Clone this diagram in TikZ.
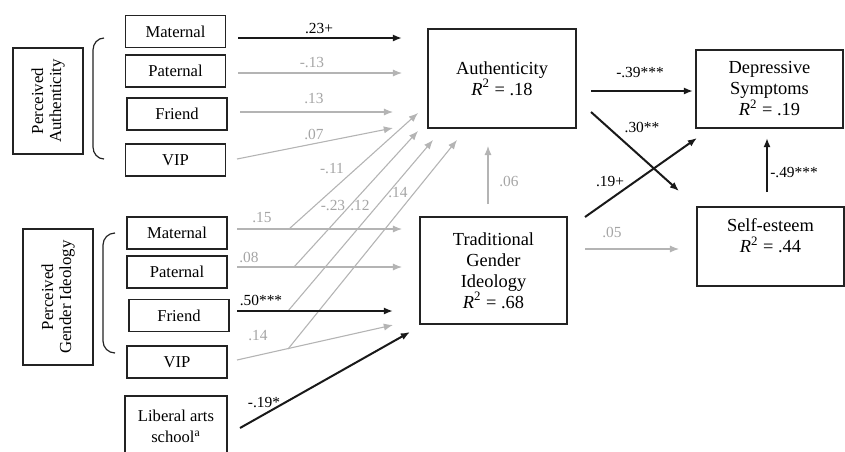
\documentclass[tikz,border=0pt]{standalone}
\usepackage{fontspec}
\setmainfont{Liberation Serif}
\usetikzlibrary{arrows.meta,positioning}
\definecolor{nsgray}{RGB}{180,180,180}
\definecolor{nstext}{RGB}{165,165,165}
\definecolor{boxline}{RGB}{35,35,35}
\newcommand{\rsq}[1]{\textit{R}\textsuperscript{2} = #1}
\tikzset{
  smallbox/.style={draw=boxline, line width=0.6pt, minimum width=50pt, minimum height=16pt,
    inner sep=1pt, align=center, font=\fontsize{8.3}{10.5}\selectfont},
  bigbox/.style={draw=boxline, line width=0.6pt, align=center, inner sep=1pt,
    font=\fontsize{9.2}{10.5}\selectfont},
  groupbox/.style={draw=boxline, line width=0.6pt, rotate=90, align=center, inner sep=1pt,
    minimum height=35pt, font=\fontsize{8.4}{9}\selectfont},
  brace line/.style={draw=boxline, line width=0.6pt},
  sig/.style={draw=black!90, line width=1pt, -{Latex[length=4.6pt,width=3.6pt]}},
  ns/.style={draw=nsgray, line width=0.55pt, -{Latex[length=4.6pt,width=3.6pt]}},
  coef/.style={inner sep=0.5pt, font=\fontsize{7.7}{9}\selectfont},
  nscoef/.style={coef, text=nstext},
}
\begin{document}
\begin{tikzpicture}[x=0.5pt, y=-0.5pt]
\useasboundingbox (0,0) rectangle (845,451);
% group boxes and braces
\node[groupbox, minimum width=53pt] (pauth) at (48,101) {Perceived\\Authenticity};
\node[groupbox, minimum width=68pt] (pgend) at (58,297) {Perceived\\Gender Ideology};
\draw[brace line] (104,38) to[out=180,in=90] (93,50) -- (93,147) to[out=-90,in=180] (104,159);
\draw[brace line] (115,233) to[out=180,in=90] (103,245) -- (103,341) to[out=-90,in=180] (115,353);

% predictors
\foreach \name/\x/\y/\txt in {amat/175.5/31.5/Maternal, apat/175.5/71/Paternal,
    afri/177/114/Friend, avip/175.5/160/VIP, gmat/177/233/Maternal,
    gpat/177/272/Paternal, gfri/179/315.5/Friend, gvip/177/362/VIP}
  \node[smallbox] (\name) at (\x,\y) {\txt};
\node[smallbox, minimum width=51pt, minimum height=30pt] (lib) at (176,426) {Liberal arts\\school\textsuperscript{a}};

% outcomes
\node[bigbox, minimum width=74pt, minimum height=49.5pt] (auth) at (502,78.5) {Authenticity\\\rsq{.18}};
\node[bigbox, minimum width=73.5pt, minimum height=53.5pt] (tgi) at (493.5,270.5) {Traditional\\Gender\\Ideology\\\rsq{.68}};
\node[bigbox, minimum width=73.5pt, minimum height=39pt] (dep) at (769.5,89) {Depressive\\Symptoms\\\rsq{.19}};
\node[bigbox, minimum width=73.5pt, minimum height=39.5pt] (se) at (770.5,246.5) {Self-esteem\\\rsq{.44}\\\mbox{}};

% arrow ends
\foreach \name/\x/\y in {amat-o/238/38, amat-i/402/38, apat-o/238/73, apat-i/402/73,
    afri-o/240/112, afri-i/393/112, avip-o/237/159, avip-i/393/128,
    gmat-o/237/229, gmat-i/402/229, gpat-o/237/267, gpat-i/402/267,
    gfri-o/237/311, gfri-i/393/311, gvip-o/237/360, gvip-i/393/325,
    lib-o/240/428, lib-i/410/332,
    gmat-d/289/229, gpat-d/294/267, gfri-d/288/311, gvip-d/288/349,
    auth-d1/418/113, auth-d2/418/131, auth-d3/433/140, auth-d4/457/140,
    tgi-t/488/204, auth-b/488/146, auth-r/591/91, dep-l/693/91,
    auth-br/591/112, se-tl/679/191, tgi-tr/585/217, dep-bl/697/138,
    se-t/767/192, dep-b/767/138, tgi-r/585/249, se-l/679/249}
  \coordinate (\name) at (\x,\y);

% non-significant paths
\foreach \a/\b in {apat-o/apat-i, afri-o/afri-i, avip-o/avip-i, gmat-o/gmat-i,
    gpat-o/gpat-i, gvip-o/gvip-i, gmat-d/auth-d1, gpat-d/auth-d2,
    gfri-d/auth-d3, gvip-d/auth-d4, tgi-t/auth-b, tgi-r/se-l}
  \draw[ns] (\a) -- (\b);
% significant paths
\foreach \a/\b in {amat-o/amat-i, gfri-o/gfri-i, lib-o/lib-i, auth-r/dep-l,
    auth-br/se-tl, tgi-tr/dep-bl, se-t/dep-b}
  \draw[sig] (\a) -- (\b);

% coefficients
\node[coef] (c-amat) at (319,29) {.23+};
\node[nscoef] (c-apat) at (312,63) {-.13};
\node[nscoef] (c-afri) at (314,99) {.13};
\node[nscoef] (c-avip) at (314,134) {.07};
\node[nscoef] (c-gmat) at (262,218) {.15};
\node[nscoef] (c-gpat) at (249,257) {.08};
\node[coef] (c-gfri) at (261,300) {.50***};
\node[nscoef] (c-gvip) at (258,336) {.14};
\node[coef] (c-lib) at (264,402) {-.19*};
\node[nscoef] (c-gmat-a) at (332,169) {-.11};
\node[nscoef] (c-gpat-a) at (333,206) {-.23};
\node[nscoef] (c-gfri-a) at (360,206) {.12};
\node[nscoef] (c-gvip-a) at (398,193) {.14};
\node[nscoef] (c-tgi-a) at (509,181) {.06};
\node[coef] (c-auth-d) at (640,73) {-.39***};
\node[coef] (c-auth-s) at (642,127) {.30**};
\node[coef] (c-tgi-d) at (610,182) {.19+};
\node[coef] (c-se-d) at (794,173) {-.49***};
\node[nscoef] (c-tgi-s) at (612,232) {.05};
\end{tikzpicture}
\end{document}
